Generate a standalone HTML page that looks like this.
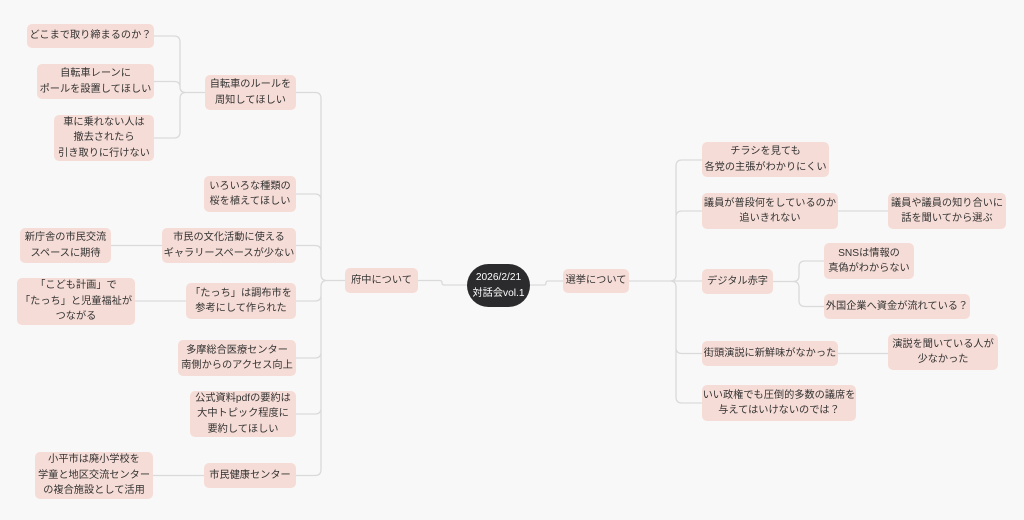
<!DOCTYPE html>
<html><head><meta charset="utf-8"><style>
html,body{margin:0;padding:0;background:#f8f8f8;}
#c{position:relative;width:1024px;height:520px;overflow:hidden;font-family:"Liberation Sans","Noto Sans CJK JP",sans-serif;}
.n{position:absolute;background:#f6dcd6;border-radius:5px;color:#333;font-size:10.2px;line-height:15.5px;display:flex;align-items:center;justify-content:center;text-align:center;white-space:nowrap;}
.ctr{background:#2b2b2d;color:#fff;border-radius:22px;font-size:10.2px;line-height:16px;}
svg{position:absolute;left:0;top:0;}
</style></head><body><div id="c">
<svg id="s" width="1024" height="520"></svg>
<div class="n" style="left:27px;top:24px;width:127px;height:24px">どこまで取り締まるのか？</div>
<div class="n" style="left:37px;top:64px;width:117px;height:35px">自転車レーンに<br>ポールを設置してほしい</div>
<div class="n" style="left:54px;top:115px;width:100px;height:46px">車に乗れない人は<br>撤去されたら<br>引き取りに行けない</div>
<div class="n" style="left:205px;top:75px;width:91px;height:35px">自転車のルールを<br>周知してほしい</div>
<div class="n" style="left:204px;top:176px;width:92px;height:36px">いろいろな種類の<br>桜を植えてほしい</div>
<div class="n" style="left:20px;top:228px;width:91px;height:35px">新庁舎の市民交流<br>スペースに期待</div>
<div class="n" style="left:162px;top:228px;width:134px;height:35px">市民の文化活動に使える<br>ギャラリースペースが少ない</div>
<div class="n" style="left:17px;top:278px;width:118px;height:47px">「こども計画」で<br>「たっち」と児童福祉が<br>つながる</div>
<div class="n" style="left:186px;top:283px;width:110px;height:36px">「たっち」は調布市を<br>参考にして作られた</div>
<div class="n" style="left:178px;top:340px;width:118px;height:36px">多摩総合医療センター<br>南側からのアクセス向上</div>
<div class="n" style="left:190px;top:391px;width:106px;height:46px">公式資料pdfの要約は<br>大中トピック程度に<br>要約してほしい</div>
<div class="n" style="left:35px;top:452px;width:118px;height:47px">小平市は廃小学校を<br>学童と地区交流センター<br>の複合施設として活用</div>
<div class="n" style="left:204px;top:463px;width:92px;height:25px">市民健康センター</div>
<div class="n" style="left:345px;top:268px;width:73px;height:25px">府中について</div>
<div class="n ctr" style="left:467px;top:264px;width:63px;height:43px">2026/2/21<br>対話会vol.1</div>
<div class="n" style="left:563px;top:269px;width:66px;height:24px">選挙について</div>
<div class="n" style="left:702px;top:142px;width:127px;height:35px">チラシを見ても<br>各党の主張がわかりにくい</div>
<div class="n" style="left:702px;top:193px;width:136px;height:36px">議員が普段何をしているのか<br>追いきれない</div>
<div class="n" style="left:888px;top:193px;width:118px;height:36px">議員や議員の知り合いに<br>話を聞いてから選ぶ</div>
<div class="n" style="left:702px;top:269px;width:71px;height:25px">デジタル赤字</div>
<div class="n" style="left:824px;top:243px;width:90px;height:36px">SNSは情報の<br>真偽がわからない</div>
<div class="n" style="left:824px;top:294px;width:146px;height:25px">外国企業へ資金が流れている？</div>
<div class="n" style="left:702px;top:341px;width:136px;height:25px">街頭演説に新鮮味がなかった</div>
<div class="n" style="left:888px;top:334px;width:110px;height:36px">演説を聞いている人が<br>少なかった</div>
<div class="n" style="left:702px;top:385px;width:154px;height:36px">いい政権でも圧倒的多数の議席を<br>与えてはいけないのでは？</div>
</div>
<script>
var s=document.getElementById('s'),d='';
function e(x1,y1,sx,x2,y2){var r=6,dy=y2-y1;if(Math.abs(dy)<1){d+='M'+x1+' '+y1+'H'+x2;return;}
var dir=x2>x1?1:-1,vs=dy>0?1:-1;if(Math.abs(dy)<2*r)r=Math.abs(dy)/2;
d+='M'+x1+' '+y1+'H'+(sx-dir*r)+'Q'+sx+' '+y1+' '+sx+' '+(y1+vs*r)+'V'+(y2-vs*r)+'Q'+sx+' '+y2+' '+(sx+dir*r)+' '+y2+'H'+x2;}
[92.5,194,245.5,301,358,414,475.5].forEach(function(y){e(345,280.5,321,296,y);});
[36,81.5,138].forEach(function(y){e(205,92.5,180,154,y);});
e(162,245.5,0,111,245.5);e(186,301,0,135,301);e(204,475.5,0,153,475.5);
e(467,285,442,418,280.5);e(530,285,546,563,281);
[160,211,281.5,353.5,403].forEach(function(y){e(629,281,676,702,y);});
e(838,211,0,888,211);e(838,353.5,0,888,353.5);
[261,306.5].forEach(function(y){e(773,281.5,799,824,y);});
s.innerHTML='<path d="'+d+'" fill="none" stroke="#dadada" stroke-width="1.3"/>';
</script>
</body></html>
